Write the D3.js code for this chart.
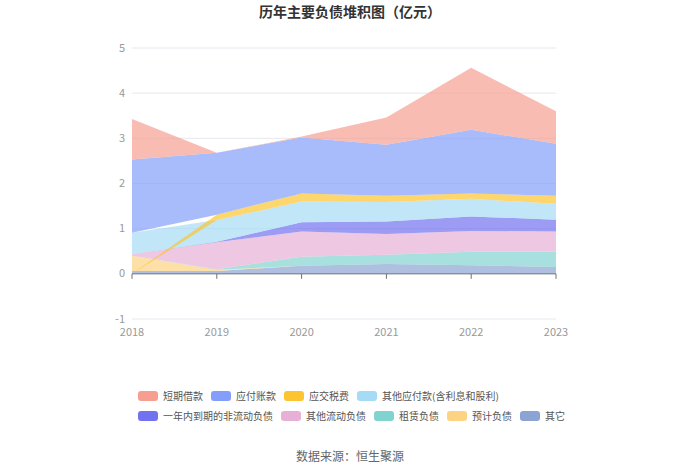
<!DOCTYPE html>
<html><head><meta charset="utf-8">
<script src="https://cdn.jsdelivr.net/npm/d3@7"></script>
<style>body{margin:0;background:#fff;font-family:"Noto Sans CJK SC","Noto Sans",sans-serif;}</style>
</head><body><svg id="c" width="700" height="474"></svg>
<script>
const years = ["2018","2019","2020","2021","2022","2023"];
const seriesNames = ["短期借款","应付账款","应交税费","其他应付款(含利息和股利)","一年内到期的非流动负债","其他流动负债","租赁负债","预计负债","其它"];
const colors = ["#f69f91","#839ffb","#fcc430","#a5dbf5","#7272f1","#e7b0d6","#81d3d0","#fcd383","#8ba4d3"];
// values per series (亿元), null = no value
const v短期借款 = [0.90, 0.00, 0.02, 0.60, 1.37, 0.72];
const v应付账款 = [1.62, 1.37, 1.24, 1.13, 1.41, 1.15];
const v应交税费 = [null, 0.12, 0.18, 0.14, 0.12, 0.18];
const v其他应付款 = [0.47, 0.48, 0.46, 0.43, 0.39, 0.35];
const v一年内到期 = [0.00, 0.01, 0.20, 0.28, 0.32, 0.26];
const v其他流动负债 = [0.04, 0.60, 0.56, 0.46, 0.46, 0.45];
const v租赁负债 = [0.00, 0.01, 0.20, 0.20, 0.30, 0.34];
const v预计负债 = [0.34, 0.03, 0.00, 0.00, 0.00, 0.00];
const v其它 = [0.06, 0.06, 0.18, 0.22, 0.19, 0.15];
const seriesValues = [v短期借款, v应付账款, v应交税费, v其他应付款, v一年内到期, v其他流动负债, v租赁负债, v预计负债, v其它];
const yTicks = [-1,0,1,2,3,4,5];

const svg = d3.select("#c");
const x = d3.scalePoint().domain(years).range([132,556]);
const y = d3.scaleLinear().domain([-1,5]).range([319,48]);

// title
svg.append("text").attr("x",350).attr("y",17).attr("text-anchor","middle")
  .attr("font-size",14).attr("font-weight","bold").attr("fill","#333").text("历年主要负债堆积图（亿元）");

// grid
svg.append("g").selectAll("line").data(yTicks.filter(t=>t!==0)).join("line")
  .attr("x1",132).attr("x2",556).attr("y1",d=>y(d)).attr("y2",d=>y(d))
  .attr("stroke","#e6e8ef").attr("stroke-width",1);
svg.append("g").selectAll("text").data(yTicks).join("text")
  .attr("x",125).attr("y",d=>y(d)+3.5).attr("text-anchor","end")
  .attr("font-size",11).attr("fill","#999").text(d=>d);

// stacking: bottom = last series
const n = years.length;
const stacked = [];
let cum = new Array(n).fill(0);
for (let s = seriesValues.length-1; s>=0; s--) {
  const vals = seriesValues[s];
  const pts = [];
  for (let i=0;i<n;i++){
    if (vals[i]===null){ pts.push({i, y0:0, y1:0}); }
    else { pts.push({i, y0:cum[i], y1:cum[i]+vals[i]}); cum[i]+=vals[i]; }
  }
  stacked[s] = {pts, color: colors[s]};
}
const area = d3.area().x(d=>x(years[d.i])).y0(d=>y(d.y0)).y1(d=>y(d.y1));
// draw from the bottom of the stack upward
svg.append("g").selectAll("path").data(stacked.slice().reverse()).join("path")
  .attr("d",d=>area(d.pts)).attr("fill",d=>d.color).attr("fill-opacity",0.7);

// x axis at zero
const ax = svg.append("g").attr("transform",`translate(0,${y(0)})`);
ax.append("line").attr("x1",132).attr("x2",556).attr("stroke","#6e7079");
ax.selectAll("line.t").data(years).join("line").attr("class","t")
  .attr("x1",d=>x(d)).attr("x2",d=>x(d)).attr("y1",0).attr("y2",5).attr("stroke","#6e7079");
svg.append("g").selectAll("text").data(years).join("text")
  .attr("x",d=>x(d)).attr("y",336).attr("text-anchor","middle")
  .attr("font-size",11).attr("fill","#999").text(d=>d);

// legend
const rows = [[0,1,2,3],[4,5,6,7,8]];
const rowY = [396,416];
rows.forEach((r,ri)=>{
  let cx = 138;
  r.forEach(si=>{
    const g = svg.append("g");
    g.append("rect").attr("x",cx).attr("y",rowY[ri]-5).attr("width",20).attr("height",10).attr("rx",3)
      .attr("fill",colors[si]);
    const t = g.append("text").attr("x",cx+25).attr("y",rowY[ri]+3.5).attr("font-size",10).attr("fill","#555").text(seriesNames[si]);
    cx += 25 + t.node().getComputedTextLength() + 8;
  });
});

svg.append("text").attr("x",350).attr("y",461).attr("text-anchor","middle")
  .attr("font-size",12).attr("fill","#666").text("数据来源：恒生聚源");
</script></body></html>
